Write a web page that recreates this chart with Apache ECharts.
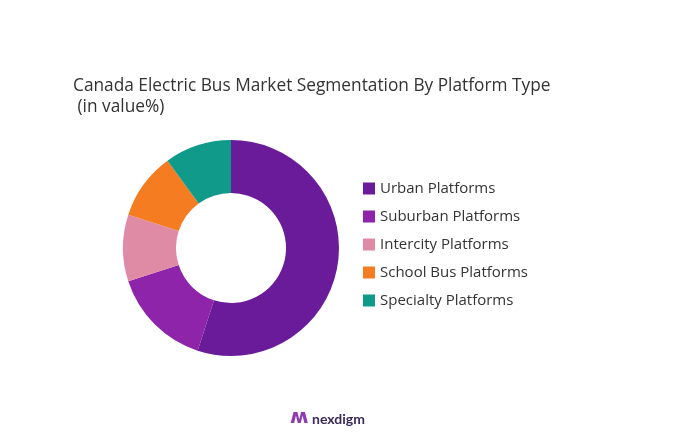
<!DOCTYPE html>
<html><head><meta charset="utf-8">
<script src="https://cdn.jsdelivr.net/npm/echarts@6/dist/echarts.min.js"></script>
<style>html,body{margin:0;background:#fff}#main{width:677px;height:446px}</style>
</head><body><div id="main"></div>
<script>
const categories = ['Urban Platforms', 'Suburban Platforms', 'Intercity Platforms', 'School Bus Platforms', 'Specialty Platforms'];
const shares = [55, 15, 10, 10, 10];
const colors = ['#6a1b9a', '#8e24aa', '#e08ba5', '#f57c20', '#0f9a8a'];

const chart = echarts.init(document.getElementById('main'));
chart.setOption({
  animation: false,
  title: {
    text: 'Canada Electric Bus Market Segmentation By Platform Type\n (in value%)',
    left: 68, top: 71,
    textStyle: { fontFamily: 'Open Sans', fontSize: 17.3, fontWeight: 'normal', color: '#333', lineHeight: 21 }
  },
  legend: {
    orient: 'vertical', left: 358, top: 176, itemGap: 13,
    itemWidth: 12, itemHeight: 12, icon: 'rect',
    textStyle: { fontFamily: 'Open Sans', fontSize: 15, color: '#333' },
    data: categories
  },
  graphic: [{
    type: 'text', left: 312, top: 412,
    style: { text: 'nexdigm', font: 'bold 14px Lato', fill: '#3a2a5a' }
  }, {
    type: 'text', left: 290, top: 408,
    style: { text: 'ʍ', font: 'bold 20px DejaVu Sans', fill: '#8e3ab0' }
  }],
  series: [{
    type: 'pie',
    center: [231, 248], radius: [55, 108],
    startAngle: 90, clockwise: true,
    label: { show: false }, labelLine: { show: false },
    data: categories.map((n, i) => ({ name: n, value: shares[i], itemStyle: { color: colors[i] } }))
  }]
});
</script></body></html>
